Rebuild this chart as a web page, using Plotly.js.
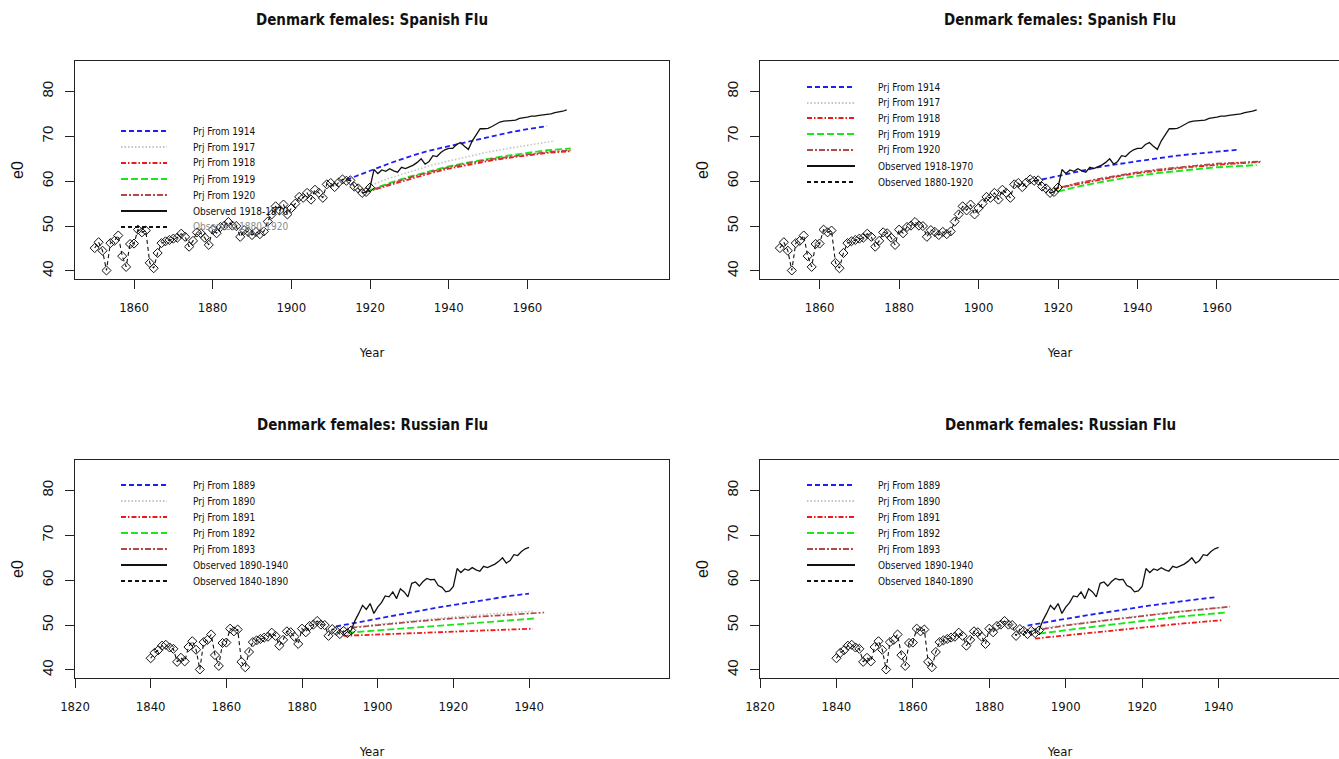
<!DOCTYPE html>
<html>
<head>
<meta charset="utf-8">
<script src="https://cdn.plot.ly/plotly-3.0.1.min.js"></script>
<style>
  html, body { margin: 0; padding: 0; overflow: hidden; background: #fff; width: 1339px; height: 759px; }
  #chart { width: 1362px; height: 759px; }
</style>
</head>
<body>
<div id="chart"></div>
<script>
// Denmark, females: observed life expectancy at birth (e0), 1840-1970
const obsYears = [
  1840,1841,1842,1843,1844,1845,1846,1847,1848,1849,
  1850,1851,1852,1853,1854,1855,1856,1857,1858,1859,
  1860,1861,1862,1863,1864,1865,1866,1867,1868,1869,
  1870,1871,1872,1873,1874,1875,1876,1877,1878,1879,
  1880,1881,1882,1883,1884,1885,1886,1887,1888,1889,
  1890,1891,1892,1893,1894,1895,1896,1897,1898,1899,
  1900,1901,1902,1903,1904,1905,1906,1907,1908,1909,
  1910,1911,1912,1913,1914,1915,1916,1917,1918,1919,
  1920,1921,1922,1923,1924,1925,1926,1927,1928,1929,
  1930,1931,1932,1933,1934,1935,1936,1937,1938,1939,
  1940,1941,1942,1943,1944,1945,1946,1947,1948,1949,
  1950,1951,1952,1953,1954,1955,1956,1957,1958,1959,
  1960,1961,1962,1963,1964,1965,1966,1967,1968,1969,
  1970
];
const obsE0 = [
  42.6,43.8,44.4,45.4,45.6,45.0,44.7,41.8,42.7,41.9,
  45.1,46.4,44.5,40.1,46.2,46.7,47.9,43.3,40.9,46.0,
  46.1,49.2,48.6,49.0,41.8,40.6,44.0,46.2,46.6,46.9,
  47.2,47.4,48.3,47.6,45.4,46.7,48.6,48.4,47.4,45.8,
  49.2,48.4,49.8,50.1,50.9,50.1,50.0,47.6,49.1,48.7,
  48.0,48.7,48.2,48.8,51.0,52.6,54.4,53.5,54.8,52.6,
  54.0,55.0,56.5,56.3,57.4,55.9,58.1,57.4,56.3,59.3,
  59.6,58.7,59.7,60.4,60.1,60.2,58.8,58.4,57.4,57.6,
  58.6,62.6,61.7,62.5,62.2,62.8,62.3,62.0,63.1,62.8,
  63.2,63.6,64.2,65.0,63.8,64.4,65.7,65.5,66.4,67.0,
  67.3,67.3,68.2,68.6,67.8,67.1,69.0,70.3,71.7,71.7,
  71.8,72.2,72.8,73.2,73.4,73.5,73.5,73.6,74.0,74.1,
  74.3,74.5,74.5,74.7,74.8,74.9,75.0,75.3,75.4,75.6,
  75.9
];

// Spanish flu, first model: projections by jump-off year
const sfA1914Years = [1914,1920,1925,1930,1935,1940,1945,1950,1955,1960,1965];
const sfA1914E0    = [60.3,62.4,64.0,65.5,66.8,67.8,68.8,69.9,70.8,71.6,72.3];
const sfA1917Years = [1918,1920,1925,1930,1935,1940,1945,1950,1955,1960,1967];
const sfA1917E0    = [58.0,59.0,60.7,62.1,63.4,64.5,65.5,66.5,67.3,68.0,69.0];
const sfA1918Years = [1919,1925,1930,1935,1940,1945,1950,1955,1960,1965,1971];
const sfA1918E0    = [57.6,59.2,60.5,61.7,62.8,63.7,64.5,65.2,65.8,66.3,66.7];
const sfA1919Years = [1920,1925,1930,1935,1940,1945,1950,1955,1960,1965,1971];
const sfA1919E0    = [58.0,59.6,61.0,62.2,63.3,64.2,65.0,65.7,66.3,66.9,67.3];
const sfA1920Years = [1921,1925,1930,1935,1940,1945,1950,1955,1960,1965,1971];
const sfA1920E0    = [58.2,59.4,60.8,62.0,63.1,64.0,64.8,65.4,66.0,66.5,66.9];

// Spanish flu, second model
const sfB1914Years = [1914,1920,1925,1930,1935,1940,1945,1950,1955,1960,1965];
const sfB1914E0    = [60.0,61.2,62.2,63.1,63.8,64.5,65.1,65.7,66.2,66.6,67.0];
const sfB1917Years = [1918,1925,1930,1935,1940,1945,1950,1955,1960,1965,1971];
const sfB1917E0    = [58.1,59.3,60.2,61.0,61.7,62.3,62.8,63.2,63.6,63.9,64.2];
const sfB1918Years = [1919,1925,1930,1935,1940,1945,1950,1955,1960,1965,1971];
const sfB1918E0    = [58.3,59.4,60.3,61.1,61.8,62.4,62.9,63.3,63.7,64.0,64.3];
const sfB1919Years = [1920,1925,1930,1935,1940,1945,1950,1955,1960,1965,1970];
const sfB1919E0    = [57.7,58.8,59.7,60.5,61.2,61.8,62.3,62.7,63.1,63.4,63.6];
const sfB1920Years = [1921,1925,1930,1935,1940,1945,1950,1955,1960,1965,1971];
const sfB1920E0    = [58.7,59.6,60.5,61.3,62.0,62.6,63.1,63.5,63.9,64.2,64.4];

// Russian flu, first model
const rfA1889Years = [1889,1895,1900,1905,1910,1915,1920,1925,1930,1935,1940];
const rfA1889E0    = [49.7,50.6,51.4,52.2,53.0,53.8,54.5,55.2,55.9,56.5,57.0];
const rfA1890Years = [1890,1900,1910,1920,1930,1941];
const rfA1890E0    = [49.3,50.2,51.0,51.8,52.5,53.1];
const rfA1891Years = [1891,1900,1910,1920,1930,1941];
const rfA1891E0    = [47.6,47.9,48.3,48.6,48.9,49.2];
const rfA1892Years = [1892,1900,1910,1920,1930,1942];
const rfA1892E0    = [48.3,48.8,49.5,50.2,50.8,51.5];
const rfA1893Years = [1893,1900,1910,1920,1930,1944];
const rfA1893E0    = [49.4,50.0,50.8,51.5,52.1,52.8];

// Russian flu, second model
const rfB1889Years = [1890,1895,1900,1905,1910,1915,1920,1925,1930,1935,1939];
const rfB1889E0    = [49.9,50.7,51.4,52.1,52.8,53.5,54.1,54.7,55.3,55.8,56.2];
const rfB1890Years = [1891,1900,1910,1920,1930,1942];
const rfB1890E0    = [49.1,50.1,51.1,52.1,53.1,54.0];
const rfB1891Years = [1892,1900,1910,1920,1930,1941];
const rfB1891E0    = [47.0,47.7,48.6,49.5,50.3,51.1];
const rfB1892Years = [1893,1900,1910,1920,1930,1942];
const rfB1892E0    = [48.1,48.9,49.9,50.9,51.9,52.8];
const rfB1893Years = [1894,1900,1910,1920,1930,1943];
const rfB1893E0    = [49.1,49.9,51.0,52.0,53.0,54.1];

const spanishLabels = ['Prj From 1914','Prj From 1917','Prj From 1918','Prj From 1919','Prj From 1920','Observed 1918-1970','Observed 1880-1920'];
const russianLabels = ['Prj From 1889','Prj From 1890','Prj From 1891','Prj From 1892','Prj From 1893','Observed 1890-1940','Observed 1840-1890'];
const spanishTitle = 'Denmark females: Spanish Flu';
const russianTitle = 'Denmark females: Russian Flu';
const spanishTicks = [1860,1880,1900,1920,1940,1960];
const russianTicks = [1820,1840,1860,1880,1900,1920,1940];
const e0Ticks = [40,50,60,70,80];

// ---- styling ----
const W = 1362, H = 759;
const px = x => x / W;
const py = y => 1 - y / H;
const NARROW = '"Liberation Sans Narrow", "DejaVu Sans Condensed", "Roboto Condensed", Roboto, sans-serif';
const SANS = '"Liberation Sans", Arial, sans-serif';

const prjStyles = [
  {color: '#1f1ff0', dash: '5px,3px', width: 1.8},
  {color: '#c4c4c4', dash: '1.5px,2px', width: 1.6},
  {color: '#f01818', dash: '5px,2px,1.5px,2px', width: 1.8},
  {color: '#18e818', dash: '7px,3px', width: 1.9},
  {color: '#b04a4a', dash: '6px,2px,2px,2px', width: 1.7}
];
const obsSolid = {color: '#111', width: 1.3};
const obsDashed = {color: '#111', dash: '4px,3px', width: 1.1};

function pick(y0, y1) {
  const x = [], y = [];
  obsYears.forEach((yr, i) => { if (yr >= y0 && yr <= y1) { x.push(yr); y.push(obsE0[i]); } });
  return {x, y};
}

const panels = [
  {ax: '', frame: [75, 669, 61, 279], titleY: 20, range: [1845, 1996], ticks: spanishTicks, title: spanishTitle,
   labels: spanishLabels, prj: [[sfA1914Years,sfA1914E0],[sfA1917Years,sfA1917E0],[sfA1918Years,sfA1918E0],[sfA1919Years,sfA1919E0],[sfA1920Years,sfA1920E0]],
   pts: [1850, 1920], solid: [1918, 1970], leg: {sx: [121, 167], tx: 191, rows: [131,147,163,179,195,211,227]}, lastLabelColor: '#8c8c8c'},
  {ax: '2', frame: [760, 1360, 61, 279], titleY: 20, range: [1845, 1996], ticks: spanishTicks, title: spanishTitle,
   labels: spanishLabels, prj: [[sfB1914Years,sfB1914E0],[sfB1917Years,sfB1917E0],[sfB1918Years,sfB1918E0],[sfB1919Years,sfB1919E0],[sfB1920Years,sfB1920E0]],
   pts: [1850, 1920], solid: [1918, 1970], leg: {sx: [807, 855], tx: 876, rows: [87,103,118,134,150,166,182]}, lastLabelColor: '#111'},
  {ax: '3', frame: [75, 669, 460, 678], titleY: 425, range: [1820, 1977], ticks: russianTicks, title: russianTitle,
   labels: russianLabels, prj: [[rfA1889Years,rfA1889E0],[rfA1890Years,rfA1890E0],[rfA1891Years,rfA1891E0],[rfA1892Years,rfA1892E0],[rfA1893Years,rfA1893E0]],
   pts: [1840, 1893], solid: [1893, 1940], leg: {sx: [121, 167], tx: 191, rows: [485,501,517,533,549,565,581]}, lastLabelColor: '#111'},
  {ax: '4', frame: [760, 1360, 460, 678], titleY: 425, range: [1820, 1977], ticks: russianTicks, title: russianTitle,
   labels: russianLabels, prj: [[rfB1889Years,rfB1889E0],[rfB1890Years,rfB1890E0],[rfB1891Years,rfB1891E0],[rfB1892Years,rfB1892E0],[rfB1893Years,rfB1893E0]],
   pts: [1840, 1893], solid: [1893, 1940], leg: {sx: [807, 855], tx: 876, rows: [485,501,517,533,549,565,581]}, lastLabelColor: '#111'}
];

const traces = [];
const layout = {
  width: W, height: H,
  margin: {l: 0, r: 0, t: 0, b: 0},
  paper_bgcolor: '#fff', plot_bgcolor: '#fff',
  showlegend: false,
  font: {family: SANS, color: '#111'},
  shapes: [], annotations: []
};

panels.forEach(p => {
  const xa = 'x' + p.ax, ya = 'y' + p.ax;
  const [l, r, t, b] = p.frame;
  layout['xaxis' + p.ax] = {
    domain: [px(l), px(r)], anchor: ya, range: p.range,
    tickmode: 'array', tickvals: p.ticks, ticktext: p.ticks.map(String),
    ticks: 'outside', ticklen: 9, tickwidth: 1, tickcolor: '#222',
    showline: true, linecolor: '#222', linewidth: 1.3, mirror: true,
    showgrid: false, zeroline: false, ticklabelstandoff: 7,
    tickfont: {family: NARROW, size: 13, color: '#111'},
    title: {text: 'Year', font: {family: NARROW, size: 13, color: '#111'}, standoff: 34}
  };
  layout['yaxis' + p.ax] = {
    domain: [py(b), py(t)], anchor: xa, range: [38.2, 86.8],
    tickmode: 'array', tickvals: e0Ticks, ticktext: e0Ticks.map(String),
    ticks: 'outside', ticklen: 9, tickwidth: 1, tickcolor: '#222', tickangle: -90,
    showline: true, linecolor: '#222', linewidth: 1.3, mirror: true,
    showgrid: false, zeroline: false, ticklabelstandoff: 6,
    tickfont: {family: SANS, size: 15, color: '#111'},
    title: {text: 'e0', font: {family: SANS, size: 16, color: '#111'}, standoff: 11}
  };

  // projections
  p.prj.forEach((s, i) => {
    const st = prjStyles[i];
    traces.push({type: 'scatter', mode: 'lines', x: s[0], y: s[1], xaxis: xa, yaxis: ya,
      line: {color: st.color, dash: st.dash, width: st.width}, name: p.labels[i], hoverinfo: 'skip'});
  });
  // observed, later period
  const so = pick(p.solid[0], p.solid[1]);
  traces.push({type: 'scatter', mode: 'lines', x: so.x, y: so.y, xaxis: xa, yaxis: ya,
    line: obsSolid, name: p.labels[5], hoverinfo: 'skip'});
  // observed, earlier period with points
  const po = pick(p.pts[0], p.pts[1]);
  traces.push({type: 'scatter', mode: 'lines+markers', x: po.x, y: po.y, xaxis: xa, yaxis: ya,
    line: obsDashed, name: p.labels[6], hoverinfo: 'skip',
    marker: {symbol: 'diamond-open', size: 7, color: '#111', line: {width: 1, color: '#111'}}});

  // panel title
  layout.annotations.push({xref: 'paper', yref: 'paper', x: px((l + r) / 2), y: py(p.titleY),
    text: '<b>' + p.title + '</b>', showarrow: false, xanchor: 'center', yanchor: 'middle',
    font: {family: NARROW, size: 15, color: '#111'}});

  // legend key
  const lg = p.leg;
  const keyStyles = prjStyles.concat([{color: '#111', width: 1.6}, {color: '#111', dash: '4px,3px', width: 1.6}]);
  p.labels.forEach((lab, i) => {
    const st = keyStyles[i];
    layout.shapes.push({type: 'line', xref: 'paper', yref: 'paper',
      x0: px(lg.sx[0]), x1: px(lg.sx[1]), y0: py(lg.rows[i]), y1: py(lg.rows[i]),
      line: {color: st.color, width: st.width + 0.2, dash: st.dash || 'solid'}});
    layout.annotations.push({xref: 'paper', yref: 'paper', x: px(lg.tx), y: py(lg.rows[i]),
      text: lab, showarrow: false, xanchor: 'left', yanchor: 'middle',
      font: {family: NARROW, size: 10, color: i === 6 ? p.lastLabelColor : '#111'}});
  });
});

Plotly.newPlot('chart', traces, layout, {staticPlot: true, displayModeBar: false});
</script>
</body>
</html>
